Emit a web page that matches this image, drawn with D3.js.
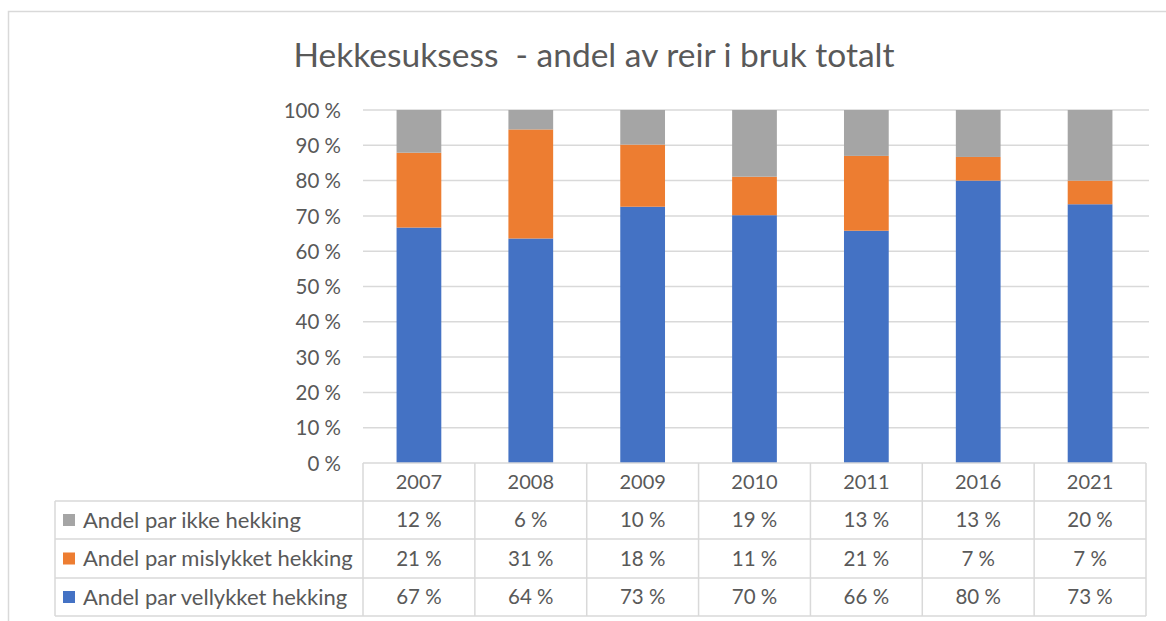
<!DOCTYPE html>
<html>
<head>
<meta charset="utf-8">
<script src="https://cdn.jsdelivr.net/npm/d3@7"></script>
<style>
  body { margin: 0; background: #fff; }
  svg { display: block; }
  text { font-family: Lato, "Open Sans", sans-serif; fill: #595959; }
</style>
</head>
<body>
<div id="chart"></div>
<script>
// data (percent of nests in use)
var years = ["2007", "2008", "2009", "2010", "2011", "2016", "2021"];
var vellykket = [66.7, 63.6, 72.6, 70.2, 65.8, 80.0, 73.3];
var mislykket = [21.2, 30.9, 17.6, 10.9, 21.2, 6.7, 6.7];
var ikke = [12.1, 5.5, 9.8, 18.9, 13.0, 13.3, 20.0];
var seriesNames = ["Andel par ikke hekking", "Andel par mislykket hekking", "Andel par vellykket hekking"];
var yTicks = [0, 10, 20, 30, 40, 50, 60, 70, 80, 90, 100];

var width = 1166, height = 621;
var colors = {
  "Andel par vellykket hekking": "#4472C4",
  "Andel par mislykket hekking": "#ED7D31",
  "Andel par ikke hekking": "#A5A5A5"
};
var gridColor = "#d9d9d9";

var svg = d3.select("#chart").append("svg")
    .attr("width", width)
    .attr("height", height);

// chart area border (only top/left visible in the crop)
svg.append("rect")
    .attr("x", 8.5).attr("y", 11.5)
    .attr("width", 1200).attr("height", 700)
    .attr("fill", "none")
    .attr("stroke", gridColor)
    .attr("stroke-width", 1.5);

svg.append("text")
    .attr("x", 594)
    .attr("y", 67)
    .attr("text-anchor", "middle")
    .style("font-size", "33.5px")
    .style("white-space", "pre")
    .text("Hekkesuksess  - andel av reir i bruk totalt");

var plotLeft = 363, plotRight = 1146, plotTop = 110, plotBottom = 463;

var y = d3.scaleLinear()
    .domain([0, 100])
    .range([plotBottom, plotTop]);

var xCol = d3.scaleBand()
    .domain(years)
    .range([plotLeft, plotRight]);

var x = d3.scaleBand()
    .domain(years)
    .range([plotLeft, plotRight])
    .paddingInner(0.6)
    .paddingOuter(0.3);

// gridlines
svg.append("g")
  .selectAll("line")
  .data(yTicks.filter(function(d) { return d > 0; }))
  .enter().append("line")
    .attr("x1", plotLeft).attr("x2", plotRight + 3)
    .attr("y1", function(d) { return y(d); })
    .attr("y2", function(d) { return y(d); })
    .attr("stroke", gridColor)
    .attr("stroke-width", 1.5);

// y axis labels
var yAxis = svg.append("g")
    .attr("transform", "translate(" + (plotLeft - 22) + ",0)")
    .call(d3.axisLeft(y).tickValues(yTicks).tickSize(0).tickPadding(0)
      .tickFormat(function(d) { return d + " %"; }));
yAxis.select(".domain").remove();
yAxis.selectAll("text")
    .style("font-size", "20.5px")
    .style("font-family", "Lato, sans-serif")
    .attr("fill", "#595959")
    .attr("dy", "0.35em");

// stacked bars
var rows = years.map(function(yr, i) {
  return {
    year: yr,
    "Andel par vellykket hekking": vellykket[i],
    "Andel par mislykket hekking": mislykket[i],
    "Andel par ikke hekking": ikke[i]
  };
});
var stackKeys = ["Andel par vellykket hekking", "Andel par mislykket hekking", "Andel par ikke hekking"];
var stacked = d3.stack().keys(stackKeys).offset(d3.stackOffsetExpand)(rows);

svg.append("g")
  .selectAll("g")
  .data(stacked)
  .enter().append("g")
    .attr("fill", function(d) { return colors[d.key]; })
  .selectAll("rect")
  .data(function(d) { return d; })
  .enter().append("rect")
    .attr("x", function(d) { return x(d.data.year); })
    .attr("width", x.bandwidth())
    .attr("y", function(d) { return y(d[1] * 100); })
    .attr("height", function(d) { return y(d[0] * 100) - y(d[1] * 100); });

// data table
var rowTop = [463, 501, 539, 578, 616];
var tableLeft = 55;
var table = svg.append("g")
    .attr("stroke", gridColor)
    .attr("stroke-width", 1.5);

// horizontal lines
table.append("line").attr("x1", plotLeft).attr("x2", plotRight).attr("y1", rowTop[0]).attr("y2", rowTop[0]);
rowTop.slice(1).forEach(function(ry) {
  table.append("line").attr("x1", tableLeft).attr("x2", plotRight).attr("y1", ry).attr("y2", ry);
});
// vertical lines
table.append("line").attr("x1", tableLeft).attr("x2", tableLeft).attr("y1", rowTop[1]).attr("y2", rowTop[4]);
years.concat(["end"]).forEach(function(yr) {
  var vx = yr === "end" ? plotRight : xCol(yr);
  table.append("line").attr("x1", vx).attr("x2", vx).attr("y1", rowTop[0]).attr("y2", rowTop[4]);
});

// header years
svg.append("g")
  .selectAll("text")
  .data(years)
  .enter().append("text")
    .attr("x", function(d) { return xCol(d) + xCol.bandwidth() / 2; })
    .attr("y", (rowTop[0] + rowTop[1]) / 2)
    .attr("dy", "0.35em")
    .attr("text-anchor", "middle")
    .style("font-size", "20px")
    .text(function(d) { return d; });

var tableSeries = [ikke, mislykket, vellykket];
seriesNames.forEach(function(name, r) {
  var cy = (rowTop[r + 1] + rowTop[r + 2]) / 2;
  svg.append("rect")
      .attr("x", 63).attr("y", cy - 6)
      .attr("width", 12).attr("height", 12)
      .attr("fill", colors[name]);
  svg.append("text")
      .attr("x", 83).attr("y", cy)
      .attr("dy", "0.35em")
      .style("font-size", "22px")
      .text(name);
  svg.append("g")
    .selectAll("text")
    .data(tableSeries[r])
    .enter().append("text")
      .attr("x", function(d, i) { return xCol(years[i]) + xCol.bandwidth() / 2; })
      .attr("y", cy)
      .attr("dy", "0.35em")
      .attr("text-anchor", "middle")
      .style("font-size", "20.5px")
      .text(function(d) { return Math.round(d) + " %"; });
});
</script>
</body>
</html>
